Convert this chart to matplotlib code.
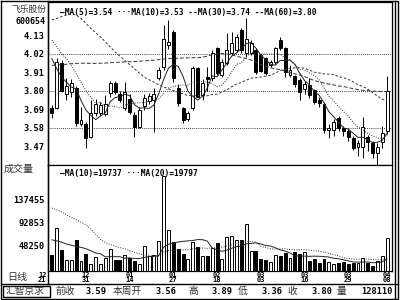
import numpy as np
import matplotlib
matplotlib.use("Agg")
import matplotlib.pyplot as plt
from matplotlib.patches import Rectangle

plt.rcParams['font.family'] = ['DejaVu Sans Mono', 'Noto Sans CJK SC']

# daily candles, oldest first
opens = [3.697, 3.697, 3.965, 3.78, 3.792, 3.816, 3.603, 3.60, 3.525, 3.667,
         3.667, 3.66, 3.786, 3.846, 3.78, 3.697, 3.75, 3.655, 3.584, 3.71,
         3.74, 3.745, 3.875, 3.94, 4.07, 4.148, 3.816, 3.697, 3.632, 3.697,
         3.935, 3.774, 3.88, 3.875, 4.054, 3.893, 3.965, 4.024, 4.042, 4.16,
         4.024, 4.024, 4.042, 4.012, 3.994, 3.953, 3.97, 4.101, 4.054, 3.893,
         3.887, 3.864, 3.81, 3.834, 3.804, 3.745, 3.72, 3.566, 3.566, 3.638,
         3.578, 3.56, 3.518, 3.465, 3.465, 3.525, 3.49, 3.43, 3.495, 3.56]
highs = [3.715, 3.995, 3.983, 3.875, 3.87, 3.83, 3.70, 3.614, 3.745, 3.75,
         3.73, 3.775, 3.858, 3.858, 3.80, 3.852, 3.78, 3.673, 3.70, 3.78,
         3.786, 3.816, 3.94, 4.19, 4.22, 4.16, 3.84, 3.70, 3.68, 3.945,
         3.94, 3.87, 3.94, 4.042, 4.06, 3.99, 4.143, 4.149, 4.137, 4.173,
         4.232, 4.10, 4.054, 4.02, 4.00, 3.98, 4.06, 4.12, 4.06, 3.95,
         3.893, 3.875, 3.86, 3.875, 3.81, 3.76, 3.73, 3.60, 3.63, 3.65,
         3.59, 3.578, 3.53, 3.507, 3.643, 3.535, 3.50, 3.489, 3.59, 3.89]
lows = [3.637, 3.69, 3.79, 3.745, 3.762, 3.59, 3.59, 3.458, 3.52, 3.65,
        3.65, 3.65, 3.763, 3.78, 3.73, 3.685, 3.66, 3.525, 3.578, 3.685,
        3.72, 3.554, 3.863, 3.92, 4.05, 3.85, 3.71, 3.608, 3.62, 3.685,
        3.76, 3.745, 3.80, 3.86, 3.895, 3.88, 3.953, 4.01, 4.03, 4.024,
        4.00, 4.01, 3.90, 3.91, 3.895, 3.94, 3.96, 4.04, 3.88, 3.88,
        3.82, 3.745, 3.78, 3.757, 3.72, 3.70, 3.55, 3.52, 3.53, 3.56,
        3.53, 3.50, 3.447, 3.41, 3.40, 3.44, 3.40, 3.36, 3.46, 3.54]
closes = [3.667, 3.971, 3.798, 3.828, 3.846, 3.608, 3.626, 3.518, 3.667, 3.72,
          3.715, 3.72, 3.846, 3.792, 3.745, 3.792, 3.673, 3.584, 3.685, 3.757,
          3.77, 3.78, 3.923, 4.107, 4.09, 3.875, 3.727, 3.626, 3.667, 3.935,
          3.763, 3.846, 3.87, 4.024, 3.905, 3.97, 4.042, 4.083, 4.119, 4.042,
          4.107, 4.083, 3.911, 3.917, 3.905, 3.97, 4.054, 4.054, 3.911, 3.923,
          3.84, 3.792, 3.84, 3.774, 3.733, 3.727, 3.566, 3.578, 3.614, 3.578,
          3.56, 3.525, 3.458, 3.49, 3.584, 3.495, 3.43, 3.465, 3.55, 3.80]
volumes = [29000, 81700, 40000, 19400, 20700, 59200, 17500, 31700, 13000, 25900,
           12500, 23300, 41300, 20700, 20700, 30400, 23300, 18800, 13000, 47700,
           27100, 30400, 56000, 181000, 78400, 54000, 41900, 31000, 22700, 54800,
           44400, 28400, 27900, 43200, 52100, 22700, 64400, 66900, 57900, 59200,
           89400, 38000, 38000, 22000, 20000, 16000, 29000, 27000, 34000, 25000,
           36000, 32000, 36000, 18000, 23000, 14000, 23000, 17000, 12000, 14000,
           17000, 12000, 15000, 15000, 24000, 15000, 9000, 18000, 28000, 63000]

# moving averages as shown on the chart
ma5 = [3.99, 3.93, 3.88, 3.85, 3.822, 3.810, 3.741, 3.685, 3.653, 3.628,
       3.649, 3.668, 3.734, 3.759, 3.764, 3.779, 3.770, 3.717, 3.696, 3.698,
       3.694, 3.715, 3.783, 3.867, 3.934, 3.955, 3.944, 3.885, 3.797, 3.766,
       3.744, 3.767, 3.816, 3.888, 3.882, 3.923, 3.962, 4.005, 4.024, 4.051,
       4.079, 4.087, 4.052, 4.012, 3.985, 3.957, 3.951, 3.980, 3.979, 3.982,
       3.956, 3.904, 3.861, 3.834, 3.796, 3.773, 3.728, 3.676, 3.644, 3.613,
       3.579, 3.571, 3.547, 3.522, 3.523, 3.510, 3.491, 3.493, 3.505, 3.548]
ma10 = [4.10, 4.06, 4.02, 3.99, 3.95, 3.90, 3.85, 3.80, 3.76, 3.725,
        3.730, 3.705, 3.709, 3.706, 3.696, 3.714, 3.719, 3.725, 3.727, 3.731,
        3.736, 3.742, 3.750, 3.782, 3.816, 3.824, 3.830, 3.834, 3.832, 3.850,
        3.849, 3.856, 3.851, 3.842, 3.824, 3.833, 3.865, 3.911, 3.956, 3.966,
        4.001, 4.025, 4.029, 4.018, 4.018, 4.018, 4.019, 4.016, 3.995, 3.984,
        3.957, 3.928, 3.921, 3.906, 3.889, 3.865, 3.816, 3.768, 3.739, 3.704,
        3.676, 3.650, 3.611, 3.583, 3.568, 3.545, 3.531, 3.520, 3.514, 3.536]
ma30 = [4.22, 4.23, 4.24, 4.25, 4.255, 4.25, 4.23, 4.20, 4.17, 4.145,
        4.12, 4.09, 4.06, 4.03, 4.005, 3.98, 3.955, 3.93, 3.905, 3.88,
        3.865, 3.85, 3.835, 3.822, 3.81, 3.80, 3.79, 3.78, 3.772, 3.769,
        3.772, 3.768, 3.770, 3.777, 3.779, 3.791, 3.805, 3.823, 3.839, 3.849,
        3.862, 3.874, 3.877, 3.881, 3.886, 3.892, 3.905, 3.920, 3.928, 3.933,
        3.935, 3.936, 3.933, 3.922, 3.910, 3.905, 3.900, 3.898, 3.896, 3.884,
        3.877, 3.867, 3.853, 3.835, 3.825, 3.809, 3.788, 3.768, 3.749, 3.741]
ma60 = [3.95, 3.952, 3.955, 3.957, 3.96, 3.962, 3.963, 3.963, 3.962, 3.962,
        3.963, 3.964, 3.966, 3.968, 3.969, 3.971, 3.972, 3.973, 3.975, 3.977,
        3.979, 3.981, 3.984, 3.988, 3.991, 3.992, 3.993, 3.994, 3.995, 3.996,
        3.996, 3.999, 4.005, 4.014, 4.017, 4.021, 4.018, 4.012, 4.005, 3.997,
        3.991, 3.982, 3.969, 3.956, 3.946, 3.936, 3.930, 3.925, 3.917, 3.907,
        3.900, 3.893, 3.884, 3.872, 3.860, 3.853, 3.845, 3.839, 3.834, 3.827,
        3.825, 3.818, 3.812, 3.806, 3.802, 3.800, 3.797, 3.796, 3.794, 3.795]
vma10 = [59, 57, 54.5, 51, 48.5, 46.5, 44.5, 42, 38, 33.8,
         32.2, 26.3, 26.5, 26.6, 26.6, 23.7, 24.3, 23.0, 23.0, 25.2,
         26.6, 27.3, 28.8, 44.8, 50.6, 53.0, 54.8, 56.1, 57.0, 57.7,
         59.5, 59.3, 56.5, 42.7, 40.0, 36.9, 39.2, 42.8, 46.3, 46.7,
         51.2, 52.2, 53.2, 51.1, 47.9, 47.2, 43.6, 39.7, 37.3, 33.8,
         28.5, 27.9, 27.7, 27.3, 27.6, 27.4, 26.8, 25.8, 23.6, 22.5,
         20.6, 18.6, 16.5, 16.2, 16.3, 16.4, 15.0, 15.1, 16.7, 21.6]
vma20 = [120, 117, 113, 107, 102, 98, 93, 88, 80, 70,
         60, 54, 50, 47, 44, 42, 38, 35, 32, 29.5,
         29.4, 26.8, 27.6, 35.7, 38.6, 38.3, 39.6, 39.5, 40.0, 41.5,
         43.0, 43.3, 42.6, 43.8, 45.3, 44.9, 47.0, 49.4, 51.6, 52.2,
         55.3, 55.7, 54.8, 46.9, 43.9, 42.0, 41.4, 41.2, 41.8, 40.3,
         39.9, 40.0, 40.4, 39.2, 37.7, 37.3, 35.2, 32.7, 30.4, 28.2,
         24.6, 23.3, 22.1, 21.8, 22.0, 21.9, 20.9, 20.5, 20.2, 22.1]

price_ticks = [3.47, 3.58, 3.69, 3.80, 3.91, 4.02, 4.13]
price_grid = [3.58, 3.80, 4.02]
vol_ticks = [48250, 92853, 137455]
date_pos = [-2, 7, 16, 25, 34, 43, 52, 61, 69]
date_labels = ["12\n21", "12\n31", "01\n14", "01\n27", "02\n18",
               "03\n03", "03\n16", "03\n29", "04\n08"]

status = [("前收", 55, "left"), ("3.59", 107, "right"), ("本周开", 113, "left"),
          ("3.56", 177, "right"), ("高", 188, "left"), ("3.89", 232, "right"),
          ("低", 238, "left"), ("3.36", 283, "right"), ("收", 287, "left"),
          ("3.80", 332, "right"), ("量", 337, "left"), ("128110", 393, "right")]

W, H = 400, 300
fig = plt.figure(figsize=(4, 3), dpi=100)
fig.patch.set_facecolor('white')


def px_axes(x0, y0, x1, y1):
    return fig.add_axes([x0 / W, 1 - y1 / H, (x1 - x0) / W, (y1 - y0) / H])


o = np.array(opens); h = np.array(highs); l = np.array(lows)
c = np.array(closes); v = np.array(volumes, dtype=float)
x = np.arange(len(c))
up = c >= o
xlim = (-0.8, 70.0)
num_font = dict(family='DejaVu Sans Mono', weight='bold')

# ---- price panel
ax = px_axes(48, 2, 392, 165)
ax.set_xlim(*xlim)
ax.set_ylim(3.358, 4.327)
for g in price_grid:
    ax.axhline(g, color='black', lw=0.6, ls=(0, (1, 1.5)), zorder=1)
ax.vlines(x, l, h, color='black', lw=0.7, zorder=2)
body_bot = np.minimum(o, c)
body_h = np.maximum(np.abs(c - o), 0.004)
ax.bar(x[up], body_h[up], bottom=body_bot[up], width=0.6, facecolor='white',
       edgecolor='black', lw=0.7, zorder=3)
ax.bar(x[~up], body_h[~up], bottom=body_bot[~up], width=0.6, facecolor='black',
       edgecolor='black', lw=0.7, zorder=3)
ax.plot(x, ma5, color='#222222', lw=0.7, zorder=4)
ax.plot(x, ma10, color='#333333', lw=0.7, ls=(0, (1, 1.5)), zorder=4)
ax.plot(x, ma30, color='#333333', lw=0.7, ls=(0, (2.5, 2)), zorder=4)
ax.plot(x, ma60, color='#333333', lw=0.7, ls=(0, (4, 2)), zorder=4)
ax.set_xticks([])
ax.set_yticks(price_ticks)
ax.set_yticklabels(["%.2f" % t for t in price_ticks], **num_font)
ax.tick_params(axis='y', length=0, pad=2.5, labelsize=6.2)
ax.text(0.035, 0.938, "—MA(5)=3.54 ···MA(10)=3.53 --MA(30)=3.74 --MA(60)=3.80",
        transform=ax.transAxes, fontsize=5.7, va='center', ha='left', **num_font)

# ---- volume panel
axv = px_axes(48, 165, 392, 270.5)
axv.set_xlim(*xlim)
axv.set_ylim(0, 203000)
axv.bar(x[up], v[up], width=0.6, facecolor='white', edgecolor='black', lw=0.7, zorder=3)
axv.bar(x[~up], v[~up], width=0.6, facecolor='black', edgecolor='black', lw=0.7, zorder=3)
axv.plot(x, np.array(vma10) * 1000, color='#222222', lw=0.7, zorder=4)
axv.plot(x, np.array(vma20) * 1000, color='#333333', lw=0.7, ls=(0, (1, 1.5)), zorder=4)
axv.set_xticks([])
axv.set_yticks(vol_ticks)
axv.set_yticklabels([str(t) for t in vol_ticks], **num_font)
axv.tick_params(axis='y', length=0, pad=2, labelsize=6.2)
axv.text(0.035, 0.924, "—MA(10)=19737 ···MA(20)=19797", transform=axv.transAxes,
         fontsize=5.7, va='center', ha='left', **num_font)
xt = axv.get_xaxis_transform()
for pos, lab in zip(date_pos, date_labels):
    axv.text(pos, -0.068, lab, transform=xt, ha='center', va='center',
             fontsize=5.0, linespacing=0.7, clip_on=False, **num_font)

for a in (ax, axv):
    for s in a.spines.values():
        s.set_linewidth(0.9)
        s.set_color('black')

# ---- frame and side texts in pixel space
ov = fig.add_axes([0, 0, 1, 1])
ov.set_xlim(0, W)
ov.set_ylim(H, 0)
ov.axis('off')
ov.patch.set_alpha(0)
k = dict(color='black', lw=1.0)
ov.plot([1, 397.5, 397.5, 1, 1], [1, 1, 298.5, 298.5, 1], **k)
ov.plot([395, 395], [1, 298.5], **k)
ov.plot([48, 48], [1, 284], **k)
ov.plot([1, 397.5], [284, 284], **k)
ov.add_patch(Rectangle((3, 285.5), 47, 11.5, fill=False, lw=1.0, ec='black'))

cjk = dict(family='Noto Sans CJK SC', color='#333333')
ov.text(11, 9, "飞乐股份", fontsize=6.3, va='center', ha='left', **cjk)
ov.text(45, 21, "600654", fontsize=6.0, va='center', ha='right', **num_font)
ov.text(4, 169, "成交量", fontsize=7.2, va='center', ha='left', **cjk)
ov.text(7, 277, "日线", fontsize=7.2, va='center', ha='left', **cjk)
ov.text(6, 291, "汇智京求", fontsize=7.0, va='center', ha='left', **cjk)
for txt, px, al in status:
    if txt[0].isdigit():
        ov.text(px, 291, txt, fontsize=6.2, va='center', ha=al, **num_font)
    else:
        ov.text(px, 291, txt, fontsize=7.0, va='center', ha=al, **cjk)

fig.savefig("out.png", dpi=100)
